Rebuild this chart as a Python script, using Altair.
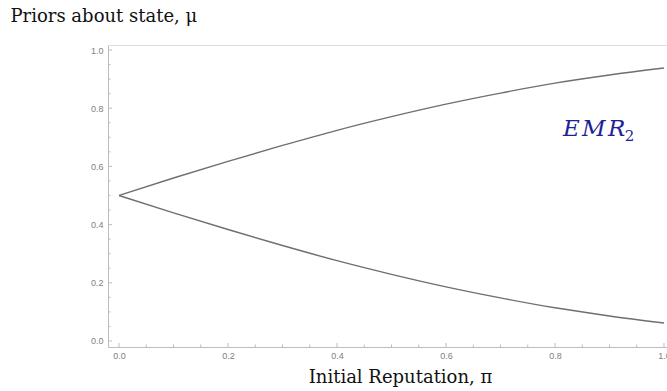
import altair as alt
import pandas as pd

# Initial reputation grid and the two branches of the prior threshold
pi_vals = [0.0, 0.1, 0.2, 0.3, 0.4, 0.5, 0.6, 0.7, 0.8, 0.9, 1.0]
mu_upper = [0.5, 0.56, 0.617, 0.672, 0.724, 0.771, 0.814, 0.852, 0.886, 0.914, 0.938]
mu_lower = [0.5, 0.44, 0.383, 0.328, 0.276, 0.229, 0.186, 0.148, 0.114, 0.086, 0.062]

# Tick positions
x_major = [0.0, 0.2, 0.4, 0.6, 0.8, 1.0]
x_minor = [0.05, 0.1, 0.15, 0.25, 0.3, 0.35, 0.45, 0.5, 0.55, 0.65, 0.7, 0.75, 0.85, 0.9, 0.95]
y_major = [0.0, 0.2, 0.4, 0.6, 0.8, 1.0]
y_minor = [0.05, 0.1, 0.15, 0.25, 0.3, 0.35, 0.45, 0.5, 0.55, 0.65, 0.7, 0.75, 0.85, 0.9, 0.95]

# Region label: main letters and subscript
region_main = ["E\u200aM\u200aR"]
region_main_x = [0.8147]
region_main_y = [0.703]
region_sub = ["2"]
region_sub_x = [0.928]
region_sub_y = [0.688]

W, H = 559, 302
X_DOM = [-0.0202, 1.0055]
Y_DOM = [-0.0207, 1.0172]

curves = pd.DataFrame(
    {"pi": pi_vals * 2,
     "mu": mu_upper + mu_lower,
     "branch": ["upper"] * len(pi_vals) + ["lower"] * len(pi_vals)}
)

xs = alt.Scale(domain=X_DOM, nice=False, zero=False)
ys = alt.Scale(domain=Y_DOM, nice=False, zero=False)

SERIF = "DejaVu Serif"
AX = "#bdbdbd"
LBL = "#808080"
NAVY = "#1f1f98"

x_axis = alt.Axis(
    values=x_major, format=".1f", grid=False, ticks=False, tickSize=0,
    domainColor=AX, domainWidth=1, labelColor=LBL, labelFont="Liberation Sans",
    labelFontSize=9, labelPadding=4,
    title="Initial Reputation, \u03c0", titleFont=SERIF, titleFontSize=18,
    titleFontWeight="normal", titleColor="#111111",
    titleX=292, titleY=35, titleAlign="center", titleBaseline="alphabetic",
)
y_axis = alt.Axis(
    values=y_major, format=".1f", grid=False, ticks=False, tickSize=0,
    domainColor=AX, domainWidth=1, labelColor=LBL, labelFont="Liberation Sans",
    labelFontSize=9, labelPadding=5,
    title="Priors about state, \u03bc", titleFont=SERIF, titleFontSize=18,
    titleFontWeight="normal", titleColor="#111111", titleAngle=0,
    titleX=-98, titleY=-24, titleAlign="left", titleBaseline="alphabetic",
)

lines = alt.Chart(curves).mark_line(
    color="#6f6f6f", strokeWidth=1.4, interpolate="monotone"
).encode(
    x=alt.X("pi:Q", scale=xs, axis=x_axis),
    y=alt.Y("mu:Q", scale=ys, axis=y_axis),
    detail="branch:N",
)

def xticks(vals, length):
    return alt.Chart(pd.DataFrame({"t": vals})).mark_rule(color=AX, strokeWidth=1).encode(
        x=alt.X("t:Q", scale=xs),
        y=alt.value(H),
        y2=alt.value(H - length),
    )

def yticks(vals, length):
    return alt.Chart(pd.DataFrame({"t": vals})).mark_rule(color=AX, strokeWidth=1).encode(
        y=alt.Y("t:Q", scale=ys),
        x=alt.value(0),
        x2=alt.value(length),
    )

def region_text(xv, yv, txt, size, style):
    return alt.Chart(pd.DataFrame({"x": xv, "y": yv, "txt": txt})).mark_text(
        font=SERIF, fontStyle=style, fontSize=size, color=NAVY,
        align="left", baseline="alphabetic",
    ).encode(
        x=alt.X("x:Q", scale=xs),
        y=alt.Y("y:Q", scale=ys),
        text="txt:N",
    )

chart = alt.layer(
    xticks(x_minor, 2.5), xticks(x_major, 4),
    yticks(y_minor, 2.5), yticks(y_major, 4),
    lines,
    region_text(region_main_x, region_main_y, region_main, 23, "italic"),
    region_text(region_sub_x, region_sub_y, region_sub, 15, "normal"),
).properties(
    width=W, height=H,
    autosize=alt.AutoSizeParams(type="none"),
    padding={"left": 108, "top": 45, "right": 0, "bottom": 44},
).configure_view(stroke=None).configure(background="white")

chart.save("out.html", embed_options={"renderer": "svg", "actions": False})
